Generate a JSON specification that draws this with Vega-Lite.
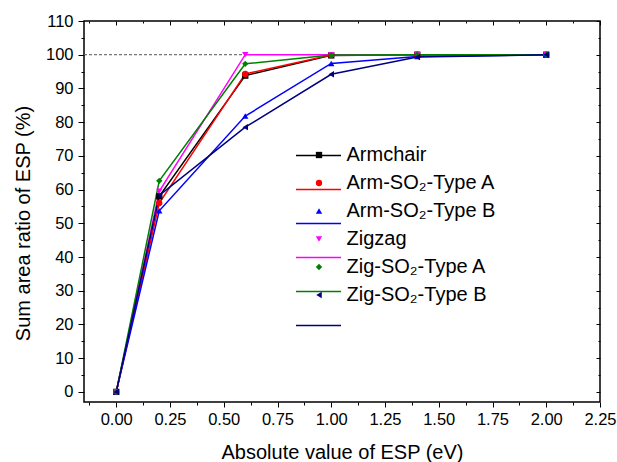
{
  "$schema": "https://vega.github.io/schema/vega-lite/v6.json",
  "width": 516,
  "height": 381,
  "autosize": {"type": "none"},
  "padding": {"left": 84, "top": 21, "right": 17, "bottom": 60},
  "background": "white",
  "config": {
    "view": {"stroke": "#000000", "strokeWidth": 1.5},
    "font": "Liberation Sans",
    "axis": {
      "labelFont": "Liberation Sans",
      "titleFont": "Liberation Sans",
      "labelColor": "#000000",
      "titleColor": "#000000",
      "titleFontWeight": "normal",
      "tickColor": "#000000",
      "tickWidth": 1,
      "grid": false,
      "domain": false,
      "labelFontSize": 16.5,
      "titleFontSize": 20
    },
    "legend": {
      "orient": "none",
      "padding": 0,
      "labelFont": "Liberation Sans",
      "labelFontSize": 20,
      "labelColor": "#000000",
      "labelLimit": 300,
      "rowPadding": 8,
      "symbolOpacity": 1,
      "symbolStrokeWidth": 1.5
    }
  },
  "datasets": {
    "series": [
      {"esp": 0.0, "ratio": 0, "series": "Armchair"},
      {"esp": 0.2, "ratio": 58.0, "series": "Armchair"},
      {"esp": 0.6, "ratio": 93.8, "series": "Armchair"},
      {"esp": 1.0, "ratio": 99.8, "series": "Armchair"},
      {"esp": 1.4, "ratio": 100, "series": "Armchair"},
      {"esp": 2.0, "ratio": 100, "series": "Armchair"},
      {"esp": 0.0, "ratio": 0, "series": "Arm-SO₂-Type A"},
      {"esp": 0.2, "ratio": 56.0, "series": "Arm-SO₂-Type A"},
      {"esp": 0.6, "ratio": 94.3, "series": "Arm-SO₂-Type A"},
      {"esp": 1.0, "ratio": 99.9, "series": "Arm-SO₂-Type A"},
      {"esp": 1.4, "ratio": 100, "series": "Arm-SO₂-Type A"},
      {"esp": 2.0, "ratio": 100, "series": "Arm-SO₂-Type A"},
      {"esp": 0.0, "ratio": 0, "series": "Arm-SO₂-Type B"},
      {"esp": 0.2, "ratio": 53.7, "series": "Arm-SO₂-Type B"},
      {"esp": 0.6, "ratio": 81.8, "series": "Arm-SO₂-Type B"},
      {"esp": 1.0, "ratio": 97.4, "series": "Arm-SO₂-Type B"},
      {"esp": 1.4, "ratio": 99.5, "series": "Arm-SO₂-Type B"},
      {"esp": 2.0, "ratio": 100, "series": "Arm-SO₂-Type B"},
      {"esp": 0.0, "ratio": 0, "series": "Zigzag"},
      {"esp": 0.2, "ratio": 59.5, "series": "Zigzag"},
      {"esp": 0.6, "ratio": 100, "series": "Zigzag"},
      {"esp": 1.0, "ratio": 100, "series": "Zigzag"},
      {"esp": 1.4, "ratio": 100, "series": "Zigzag"},
      {"esp": 2.0, "ratio": 100, "series": "Zigzag"},
      {"esp": 0.0, "ratio": 0, "series": "Zig-SO₂-Type A"},
      {"esp": 0.2, "ratio": 62.6, "series": "Zig-SO₂-Type A"},
      {"esp": 0.6, "ratio": 97.3, "series": "Zig-SO₂-Type A"},
      {"esp": 1.0, "ratio": 99.9, "series": "Zig-SO₂-Type A"},
      {"esp": 1.4, "ratio": 100, "series": "Zig-SO₂-Type A"},
      {"esp": 2.0, "ratio": 100, "series": "Zig-SO₂-Type A"},
      {"esp": 0.0, "ratio": 0, "series": "Zig-SO₂-Type B"},
      {"esp": 0.2, "ratio": 58.3, "series": "Zig-SO₂-Type B"},
      {"esp": 0.6, "ratio": 78.5, "series": "Zig-SO₂-Type B"},
      {"esp": 1.0, "ratio": 94.2, "series": "Zig-SO₂-Type B"},
      {"esp": 1.4, "ratio": 99.3, "series": "Zig-SO₂-Type B"},
      {"esp": 2.0, "ratio": 100, "series": "Zig-SO₂-Type B"}
    ],
    "ref": [{"x0": -0.15, "x1": 0.6, "y": 100}]
  },
  "layer": [
    {
      "data": {"name": "ref"},
      "mark": {"type": "rule", "strokeDash": [3, 2], "color": "#555555", "strokeWidth": 1},
      "encoding": {
        "x": {"field": "x0", "type": "quantitative", "axis": null, "scale": {"domain": [-0.15, 2.25], "nice": false, "zero": false}},
        "x2": {"field": "x1"},
        "y": {"field": "y", "type": "quantitative", "axis": null, "scale": {"domain": [-3, 110], "nice": false, "zero": false}}
      }
    },
    {
      "data": {"name": "series"},
      "mark": {"type": "line", "strokeWidth": 1.5},
      "encoding": {
        "x": {
          "field": "esp", "type": "quantitative",
          "title": "Absolute value of ESP (eV)",
          "axis": {
            "orient": "bottom",
            "values": [-0.125, 0, 0.125, 0.25, 0.375, 0.5, 0.625, 0.75, 0.875, 1, 1.125, 1.25, 1.375, 1.5, 1.625, 1.75, 1.875, 2, 2.125, 2.25],
            "labelExpr": "abs(datum.value*4 - round(datum.value*4)) < 0.001 ? format(datum.value, '.2f') : ''",
            "tickSize": {"condition": {"test": "abs(datum.value*4 - round(datum.value*4)) < 0.001", "value": 5}, "value": 3},
            "labelPadding": 4,
            "titlePadding": 15,
            "labelFlush": false,
            "labelOverlap": false
          }
        },
        "y": {
          "field": "ratio", "type": "quantitative",
          "title": "Sum area ratio of ESP (%)",
          "axis": {
            "orient": "left",
            "values": [0, 5, 10, 15, 20, 25, 30, 35, 40, 45, 50, 55, 60, 65, 70, 75, 80, 85, 90, 95, 100, 105, 110],
            "labelExpr": "datum.value % 10 == 0 ? datum.label : ''",
            "tickSize": {"condition": {"test": "datum.value % 10 == 0", "value": 6}, "value": 3},
            "labelPadding": 5,
            "titlePadding": 12,
            "titleY": 202,
            "labelFlush": false,
            "labelOverlap": false
          }
        },
        "color": {
          "field": "series", "type": "nominal",
          "scale": {
            "domain": ["Armchair", "Arm-SO₂-Type A", "Arm-SO₂-Type B", "Zigzag", "Zig-SO₂-Type A", "Zig-SO₂-Type B"],
            "range": ["#000000", "#ff0000", "#0000ff", "#ff00ff", "#008000", "#000080"]
          },
          "legend": {
            "title": null,
            "legendX": 211,
            "legendY": 111,
            "symbolType": "stroke",
            "symbolSize": 2025,
            "rowPadding": -11.2,
            "labelOffset": 5,
            "labelOpacity": 0
          }
        }
      }
    },
    {
      "data": {"name": "series"},
      "mark": {"type": "point", "filled": true, "size": 40, "opacity": 1},
      "encoding": {
        "x": {
          "field": "esp", "type": "quantitative",
          "axis": {
            "orient": "top", "labels": false, "title": null,
            "values": [-0.125, 0, 0.125, 0.25, 0.375, 0.5, 0.625, 0.75, 0.875, 1, 1.125, 1.25, 1.375, 1.5, 1.625, 1.75, 1.875, 2, 2.125, 2.25],
            "tickSize": {"condition": {"test": "abs(datum.value*4 - round(datum.value*4)) < 0.001", "value": -4}, "value": -2}
          }
        },
        "y": {
          "field": "ratio", "type": "quantitative",
          "axis": {
            "orient": "right", "labels": false, "title": null,
            "values": [0, 5, 10, 15, 20, 25, 30, 35, 40, 45, 50, 55, 60, 65, 70, 75, 80, 85, 90, 95, 100, 105, 110],
            "tickSize": {"condition": {"test": "datum.value % 10 == 0", "value": -4}, "value": -2}
          }
        },
        "color": {
          "field": "series", "type": "nominal",
          "legend": {
            "title": null,
            "legendX": 225,
            "legendY": 124,
            "symbolSize": 40,
            "symbolStrokeWidth": 0,
            "labelOffset": 17.5
          }
        },
        "shape": {
          "field": "series", "type": "nominal",
          "scale": {
            "domain": ["Armchair", "Arm-SO₂-Type A", "Arm-SO₂-Type B", "Zigzag", "Zig-SO₂-Type A", "Zig-SO₂-Type B"],
            "range": ["square", "circle", "triangle-up", "triangle-down", "diamond", "triangle-left"]
          },
          "legend": {
            "title": null,
            "legendX": 225,
            "legendY": 124,
            "symbolSize": 40,
            "symbolStrokeWidth": 0,
            "labelOffset": 17.5
          }
        }
      }
    }
  ],
  "resolve": {
    "axis": {"x": "independent", "y": "independent"},
    "legend": {"color": "independent", "shape": "independent"}
  }
}
